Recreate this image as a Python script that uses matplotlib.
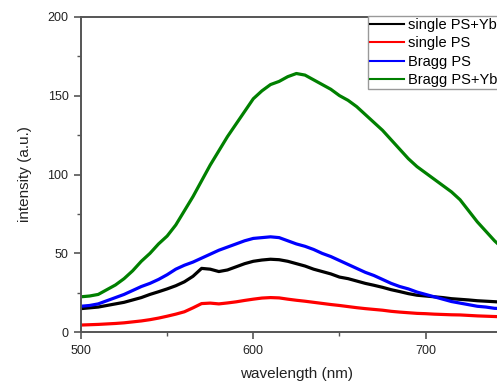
import matplotlib
matplotlib.use("Agg")
import matplotlib.pyplot as plt
from matplotlib.ticker import MultipleLocator

plt.rcParams['font.family'] = ['Liberation Sans', 'DejaVu Sans']

wavelength = [500, 505, 510, 515, 520, 525, 530, 535, 540, 545,
              550, 555, 560, 565, 570, 575, 580, 585, 590, 595,
              600, 605, 610, 615, 620, 625, 630, 635, 640, 645,
              650, 655, 660, 665, 670, 675, 680, 685, 690, 695,
              700, 705, 710, 715, 720, 725, 730, 735, 740, 745]

single_ps_yb = [15, 15.5, 16, 17, 18, 19, 20.5, 22, 24, 25.7,
                27.5, 29.5, 32, 35.5, 40.5, 40, 38.5, 39.5, 41.5, 43.5,
                45, 45.8, 46.3, 46, 45, 43.5, 42, 40, 38.5, 37,
                35, 34, 32.5, 31, 29.8, 28.5, 27, 25.8, 24.5, 23.5,
                23, 22.5, 22, 21.3, 20.9, 20.5, 20, 19.7, 19.4, 19]

single_ps = [4.6, 4.8, 5, 5.3, 5.6, 6, 6.6, 7.2, 8, 9,
             10.2, 11.5, 13, 15.5, 18.2, 18.5, 18, 18.6, 19.3, 20.2,
             21, 21.7, 22, 21.8, 21, 20.3, 19.7, 19, 18.3, 17.6,
             17, 16.3, 15.6, 15, 14.5, 14, 13.3, 12.8, 12.4, 12,
             11.8, 11.5, 11.3, 11.1, 11, 10.7, 10.4, 10.2, 10, 9.8]

bragg_ps = [16.5, 17, 18, 20, 22, 24, 26.5, 29, 31, 33.5,
            36.5, 40, 42.5, 44.5, 47, 49.5, 52, 54, 56, 58,
            59.5, 60, 60.5, 60, 58, 56, 54.5, 52.5, 50, 48,
            45.5, 43, 40.5, 38, 36, 33.5, 31, 29, 27.5, 25.5,
            24, 22.5, 21, 19.5, 18.5, 17.5, 16.5, 16, 15.2, 15]

bragg_ps_yb = [22.5, 23, 24, 27, 30, 34, 39, 45, 50, 56,
               61, 68, 77, 86, 96, 106, 115, 124, 132, 140,
               148, 153, 157, 159, 162, 164, 163, 160, 157, 154,
               150, 147, 143, 138, 133, 128, 122, 116, 110, 105,
               101, 97, 93, 89, 84, 77, 70, 64, 58, 53]

labels = ['single PS+Yb', 'single PS', 'Bragg PS', 'Bragg PS+Yb']
colors = ['#000000', '#ff0000', '#0000ff', '#008000']
series = [single_ps_yb, single_ps, bragg_ps, bragg_ps_yb]

W, H = 497, 381
fig = plt.figure(figsize=(W / 100, H / 100), dpi=100)
left = 81 / W
bottom = (H - 332.3) / H
height = (332.3 - 16.7) / H
width = 250 * 1.723 / W
ax = fig.add_axes([left, bottom, width, height])

for y, c, lab in zip(series, colors, labels):
    ax.plot(wavelength, y, color=c, lw=2.3, label=lab)

ax.set_xlim(500, 750)
ax.set_ylim(0, 200)
ax.xaxis.set_major_locator(MultipleLocator(100))
ax.xaxis.set_minor_locator(MultipleLocator(50))
ax.yaxis.set_major_locator(MultipleLocator(50))
ax.yaxis.set_minor_locator(MultipleLocator(25))

spine_c = '#555555'
for s in ax.spines.values():
    s.set_color(spine_c)
    s.set_linewidth(1.4)
ax.tick_params(which='both', direction='out', colors=spine_c, labelcolor='#222222',
               top=False, right=False)
ax.tick_params(which='major', length=5, width=1.2, labelsize=9, pad=4)
ax.tick_params(which='minor', length=3, width=1.0)

ax.set_xlabel('wavelength (nm)', fontsize=11, color='#222222', labelpad=7)
ax.set_ylabel('intensity (a.u.)', fontsize=11, color='#222222', labelpad=11)

leg = fig.legend(loc='upper left', bbox_to_anchor=(368 / W, 1 - 15.7 / H),
                 bbox_transform=fig.transFigure, fontsize=10.5, frameon=True,
                 fancybox=False, framealpha=1, edgecolor='#999999',
                 borderpad=0.15, handlelength=2.3, handletextpad=0.3,
                 labelspacing=0.3, borderaxespad=0)
leg.get_frame().set_linewidth(1.0)
for l in leg.get_lines():
    l.set_linewidth(1.5)

fig.savefig('out.png', dpi=100)
